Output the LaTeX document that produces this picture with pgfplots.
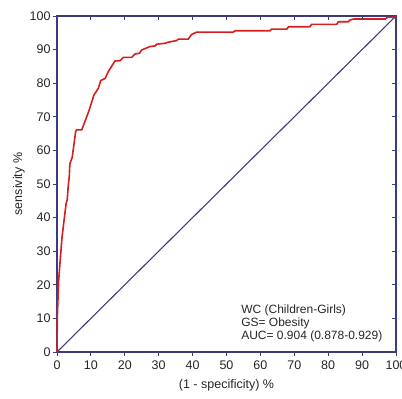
\documentclass[border=0pt]{standalone}
\usepackage{fontspec}
\setmainfont{Liberation Sans}
\usepackage{pgfplots}
\pgfplotsset{compat=1.18}
\usetikzlibrary{calc}
\definecolor{axnavy}{RGB}{60,60,125}
\definecolor{rocred}{RGB}{215,30,30}
\begin{document}
\begin{tikzpicture}
\begin{axis}[
  name=ax,
  scale only axis, width=339pt, height=336pt,
  xmin=0, xmax=100, ymin=0, ymax=100,
  xtick={0,10,...,100}, ytick={0,10,...,100},
  xtick pos=bottom, ytick pos=left,
  tick align=outside,
  major tick length=4pt,
  axis line style={draw=axnavy, line width=1.1pt},
  tick style={draw=axnavy, line width=0.9pt},
  /pgf/number format/assume math mode=true,
  ticklabel style={font=\fontsize{12.5}{14}\selectfont, text=black!85},
  xticklabel style={yshift=-1pt},
  yticklabel style={xshift=1pt},
  xlabel={(1 - specificity) \%},
  ylabel={sensivity \%},
  label style={font=\fontsize{12.5}{14}\selectfont, text=black!85},
  xlabel style={yshift=-3pt},
  ylabel style={yshift=-2pt},
  clip=false,
]
\addplot[axnavy, line width=1.1pt] coordinates {(0,0) (100,100)};
\addplot[rocred, line width=1.6pt] coordinates {
(0,0) (0.1,10.5) (0.5,21.4) (1.1,29.4) (1.5,34.3) (2.1,39.3) (2.7,44.3)
(3.0,45.2) (3.3,49.2) (3.6,52) (3.8,56) (4.5,58) (5.5,65.6) (5.8,66.1)
(7.3,66.1) (9.5,72) (10.9,76.5) (12.2,78.5) (12.9,80.8) (14.2,81.4)
(15.1,83.4) (17.1,86.6) (18.6,86.7) (19.6,87.7) (22.0,87.7) (23.0,88.7)
(24.3,88.9) (25.0,89.9) (27.4,90.9) (28.9,91.1) (29.4,91.6) (31.9,91.9)
(32.8,92.2) (35.3,92.7) (35.8,93.1) (38.7,93.1) (39.7,94.5) (41.2,95.2)
(52.0,95.2) (52.5,95.6) (62.8,95.6) (63.3,96.1) (67.8,96.1) (68.3,96.8)
(74.6,96.8) (75.1,97.5) (82.5,97.5) (83.0,98.3) (86.0,98.3) (86.4,98.8)
(87.5,99.1) (96.8,99.1) (97.5,99.6) (99.5,99.6) (100,100)};
\node[anchor=south west, align=left, font=\fontsize{12}{13}\selectfont, text=black!85, inner sep=0pt]
  at (axis cs:54.3,3.0) {WC (Children-Girls)\\GS= Obesity\\AUC= 0.904 (0.878-0.929)};
\end{axis}
\begin{axis}[
  scale only axis, width=339pt, height=336pt,
  xmin=0, xmax=100, ymin=0, ymax=100,
  xtick={10,20,...,90}, ytick={10,20,...,90},
  xtick pos=top, ytick pos=right,
  tick align=inside,
  major tick length=4pt,
  xticklabels={}, yticklabels={},
  axis line style={draw=none},
  tick style={draw=axnavy, line width=0.9pt},
]
\end{axis}
\pgfresetboundingbox
\path ($(ax.south west)+(-57pt,-47pt)$) rectangle ($(ax.north east)+(6pt,16pt)$);
\end{tikzpicture}
\end{document}
